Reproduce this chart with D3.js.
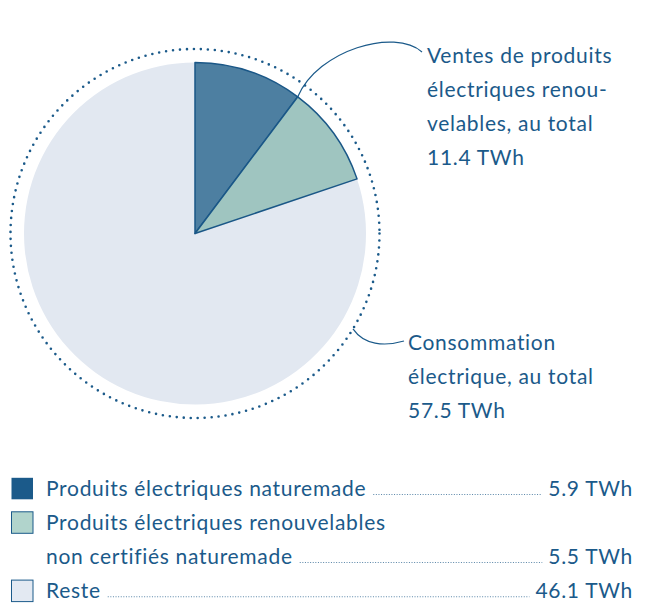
<!DOCTYPE html>
<html><head><meta charset="utf-8">
<script src="https://cdn.jsdelivr.net/npm/d3@7"></script>
<style>
html,body{margin:0;padding:0;background:#fff;}
svg{display:block;}
text{font-family:Lato,"Open Sans",sans-serif;fill:#1b5a8a;letter-spacing:0.7px;font-variant-ligatures:none;}
</style></head><body>
<svg id="chart" width="648" height="603"></svg>
<script>
const categories = ["Produits électriques naturemade", "Produits électriques renouvelables non certifiés naturemade", "Reste"];
const values = [5.9, 5.5, 46.1];
const valueLabels = ["5.9 TWh", "5.5 TWh", "46.1 TWh"];
const legendLines = [["Produits électriques naturemade"], ["Produits électriques renouvelables", "non certifiés naturemade"], ["Reste"]];
const sliceColors = ["#4d7fa1", "#9fc5c0", "#e2e8f1"];
const swatchColors = ["#1b5a8a", "#b1d4cc", "#e3e9f2"];
const annotationTop = ["Ventes de produits", "électriques renou-", "velables, au total", "11.4 TWh"];
const annotationBottom = ["Consommation", "électrique, au total", "57.5 TWh"];

const svg = d3.select("#chart");
const cx = 195, cy = 233.5, R = 171, Rdot = 184.5;
const ink = "#1b5a8a";
const fs = 21;

const pie = d3.pie().sort(null).value(d => d)(values);
const arc = d3.arc().innerRadius(0).outerRadius(R);
const g = svg.append("g").attr("transform", `translate(${cx},${cy})`);

// reste first, then coloured slices with outline
g.selectAll("path.rest").data([pie[2]]).join("path").attr("class","rest")
  .attr("d", arc).attr("fill", sliceColors[2]);
g.selectAll("path.main").data(pie.slice(0,2)).join("path").attr("class","main")
  .attr("d", arc).attr("fill", (d,i) => sliceColors[i])
  .attr("stroke", "#1a5787").attr("stroke-width", 1.5).attr("stroke-linejoin","round");

// dotted ring
g.append("circle").attr("r", Rdot).attr("fill","none").attr("stroke", ink)
  .attr("stroke-width", 2.6).attr("stroke-linecap","round").attr("stroke-dasharray","0 7");

// annotation leaders
const a1 = pie[0].endAngle;
const p1 = [R*Math.sin(a1), -R*Math.cos(a1)];
const tx1 = 422 - cx, ty1 = 52 - cy;
g.append("path").attr("fill","none").attr("stroke", ink).attr("stroke-width",1.2)
  .attr("d", `M${p1[0]},${p1[1]} C${p1[0]+20},${p1[1]-47} ${p1[0]+97},${p1[1]-69} ${tx1},${ty1}`);
const a2 = 121.1 * Math.PI/180;
const p2 = [Rdot*Math.sin(a2), -Rdot*Math.cos(a2)];
const tx2 = 404 - cx, ty2 = 341 - cy;
g.append("path").attr("fill","none").attr("stroke", ink).attr("stroke-width",1.2)
  .attr("d", `M${p2[0]},${p2[1]} C${p2[0]+11},${p2[1]+16} ${p2[0]+31},${p2[1]+18} ${tx2},${ty2}`);

// annotation texts
const t1 = svg.append("text").attr("x", 427).attr("y", 62.5).style("font-size", fs+"px");
annotationTop.forEach((s,i) => t1.append("tspan").attr("x",427).attr("dy", i?34.3:0).text(s));
const t2 = svg.append("text").attr("x", 408).attr("y", 349.5).style("font-size", fs+"px");
annotationBottom.forEach((s,i) => t2.append("tspan").attr("x",408).attr("dy", i?34:0).text(s));

// legend
const rowY = [496, 530, 598.3];
const lg = svg.append("g");
categories.forEach((c,i) => {
  const y = rowY[i];
  lg.append("rect").attr("x", 11.5).attr("y", y-18.2).attr("width", 21.5).attr("height", 21.5)
    .attr("fill", swatchColors[i]).attr("stroke", "#1b5a8a").attr("stroke-width", i===0?0:1);
  const lines = legendLines[i];
  let lastEnd = 0, lastY = y;
  lines.forEach((s,j) => {
    const t = lg.append("text").attr("x", 46).attr("y", y + j*34).style("font-size", fs+"px").text(s);
    lastEnd = 46 + t.node().getComputedTextLength();
    lastY = y + j*34;
  });
  const v = lg.append("text").attr("x", 633).attr("y", lastY).attr("text-anchor","end")
    .style("font-size", fs+"px").text(valueLabels[i]);
  const vStart = 633 - v.node().getComputedTextLength();
  lg.append("line").attr("x1", lastEnd + 7).attr("x2", vStart - 6)
    .attr("y1", lastY - 1.5).attr("y2", lastY - 1.5)
    .attr("stroke", "#5a86a8").attr("stroke-width", 1.1).attr("stroke-dasharray", "1 1.6");
});
</script></body></html>
